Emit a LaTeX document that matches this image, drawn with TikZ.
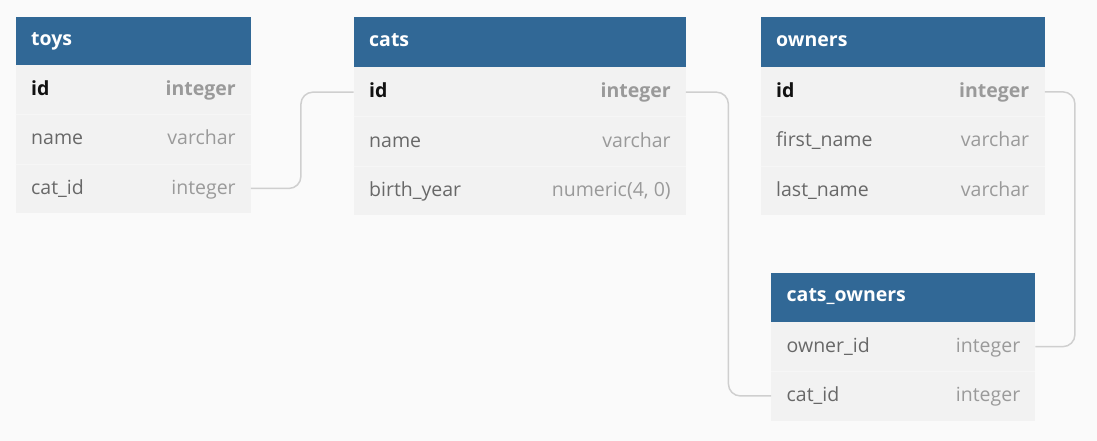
\documentclass[tikz,border=0pt]{standalone}
\usepackage{fontspec}
\setmainfont{Open Sans}
\definecolor{bgc}{HTML}{FAFAFA}
\definecolor{hblue}{HTML}{316896}
\definecolor{rowc}{HTML}{F2F2F2}
\definecolor{sepc}{HTML}{F6F6F6}
\definecolor{namec}{HTML}{686868}
\definecolor{typec}{HTML}{9A9A9A}
\definecolor{pkc}{HTML}{111111}
\definecolor{connc}{HTML}{CFCFCF}
\tikzset{
  hdr/.style={fill=hblue, draw=none, anchor=north west, inner sep=0pt, minimum height=#1},
  rowbox/.style={fill=rowc, draw=none, anchor=north west, inner sep=0pt, minimum height=49.3pt},
  htxt/.style={anchor=base west, inner sep=0pt, text=white, font=\fontsize{19.5}{22}\selectfont\bfseries},
  fname/.style={anchor=base west, inner sep=0pt, text=namec, font=\fontsize{19.5}{22}\selectfont},
  ftype/.style={anchor=base east, inner sep=0pt, text=typec, font=\fontsize{19.5}{22}\selectfont},
  pkname/.style={fname, text=pkc, font=\fontsize{19.5}{22}\selectfont\bfseries},
  pktype/.style={ftype, font=\fontsize{19.5}{22}\selectfont\bfseries},
  sepline/.style={draw=sepc, line width=1pt},
  conn/.style={draw=connc, line width=1.5pt, rounded corners=12pt},
}
\begin{document}
\begin{tikzpicture}[x=1pt,y=-1pt]
\fill[bgc] (0,0) rectangle (1097,441);
\useasboundingbox (0,0) rectangle (1097,441);

% ---------- toys ----------
\node[hdr=48.5pt, minimum width=235pt] (toys) at (15.5,16.5) {};
\node[htxt] (toys-t) at ([xshift=15.5pt,yshift=-4.5pt]toys.west) {toys};
\node[rowbox, minimum width=235pt] (toys-r1) at (15.5,65) {};
\node[rowbox, minimum width=235pt] (toys-r2) at (15.5,114.3) {};
\node[rowbox, minimum width=235pt] (toys-r3) at (15.5,163.6) {};
\draw[sepline] (toys-r1.south west) -- (toys-r1.south east);
\draw[sepline] (toys-r2.south west) -- (toys-r2.south east);
\node[pkname] (toys-r1-n) at ([xshift=15.5pt,yshift=-5.8pt]toys-r1.west) {id};
\node[pktype] (toys-r1-t) at ([xshift=-15pt,yshift=-5.8pt]toys-r1.east) {integer};
\node[fname] (toys-r2-n) at ([xshift=15.5pt,yshift=-5.8pt]toys-r2.west) {name};
\node[ftype] (toys-r2-t) at ([xshift=-15pt,yshift=-5.8pt]toys-r2.east) {varchar};
\node[fname] (toys-r3-n) at ([xshift=15.5pt,yshift=-5.8pt]toys-r3.west) {cat\_id};
\node[ftype] (toys-r3-t) at ([xshift=-15pt,yshift=-5.8pt]toys-r3.east) {integer};

% ---------- cats ----------
\node[hdr=50pt, minimum width=332pt] (cats) at (353.5,17.3) {};
\node[htxt] (cats-t) at ([xshift=15.5pt,yshift=-4.5pt]cats.west) {cats};
\node[rowbox, minimum width=332pt] (cats-r1) at (353.5,67.3) {};
\node[rowbox, minimum width=332pt] (cats-r2) at (353.5,116.6) {};
\node[rowbox, minimum width=332pt] (cats-r3) at (353.5,165.9) {};
\draw[sepline] (cats-r1.south west) -- (cats-r1.south east);
\draw[sepline] (cats-r2.south west) -- (cats-r2.south east);
\node[pkname] (cats-r1-n) at ([xshift=15.5pt,yshift=-5.8pt]cats-r1.west) {id};
\node[pktype] (cats-r1-t) at ([xshift=-15pt,yshift=-5.8pt]cats-r1.east) {integer};
\node[fname] (cats-r2-n) at ([xshift=15.5pt,yshift=-5.8pt]cats-r2.west) {name};
\node[ftype] (cats-r2-t) at ([xshift=-15pt,yshift=-5.8pt]cats-r2.east) {varchar};
\node[fname] (cats-r3-n) at ([xshift=15.5pt,yshift=-5.8pt]cats-r3.west) {birth\_year};
\node[ftype] (cats-r3-t) at ([xshift=-15pt,yshift=-5.8pt]cats-r3.east) {numeric(4, 0)};

% ---------- owners ----------
\node[hdr=50pt, minimum width=284pt] (owners) at (760.5,17) {};
\node[htxt] (owners-t) at ([xshift=15.5pt,yshift=-4.5pt]owners.west) {owners};
\node[rowbox, minimum width=284pt] (owners-r1) at (760.5,67) {};
\node[rowbox, minimum width=284pt] (owners-r2) at (760.5,116.3) {};
\node[rowbox, minimum width=284pt] (owners-r3) at (760.5,165.6) {};
\draw[sepline] (owners-r1.south west) -- (owners-r1.south east);
\draw[sepline] (owners-r2.south west) -- (owners-r2.south east);
\node[pkname] (owners-r1-n) at ([xshift=15.5pt,yshift=-5.8pt]owners-r1.west) {id};
\node[pktype] (owners-r1-t) at ([xshift=-15.5pt,yshift=-5.8pt]owners-r1.east) {integer};
\node[fname] (owners-r2-n) at ([xshift=15.5pt,yshift=-5.8pt]owners-r2.west) {first\_name};
\node[ftype] (owners-r2-t) at ([xshift=-15.5pt,yshift=-5.8pt]owners-r2.east) {varchar};
\node[fname] (owners-r3-n) at ([xshift=15.5pt,yshift=-5.8pt]owners-r3.west) {last\_name};
\node[ftype] (owners-r3-t) at ([xshift=-15.5pt,yshift=-5.8pt]owners-r3.east) {varchar};

% ---------- cats_owners ----------
\node[hdr=49.5pt, minimum width=264pt] (co) at (771,272.3) {};
\node[htxt] (co-t) at ([xshift=15.5pt,yshift=-4.5pt]co.west) {cats\_owners};
\node[rowbox, minimum width=264pt] (co-r1) at (771,321.8) {};
\node[rowbox, minimum width=264pt] (co-r2) at (771,371.1) {};
\draw[sepline] (co-r1.south west) -- (co-r1.south east);
\node[fname] (co-r1-n) at ([xshift=15.5pt,yshift=-5.8pt]co-r1.west) {owner\_id};
\node[ftype] (co-r1-t) at ([xshift=-15pt,yshift=-5.8pt]co-r1.east) {integer};
\node[fname] (co-r2-n) at ([xshift=15.5pt,yshift=-5.8pt]co-r2.west) {cat\_id};
\node[ftype] (co-r2-t) at ([xshift=-15pt,yshift=-5.8pt]co-r2.east) {integer};

% ---------- connectors ----------
\draw[conn] (toys-r3.east) -- ++(50,0) |- (cats-r1.west);
\draw[conn] (cats-r1.east) -- ++(42.5,0) |- (co-r2.west);
\draw[conn] (owners-r1.east) -- ++(30,0) |- (co-r1.east);
\end{tikzpicture}
\end{document}
